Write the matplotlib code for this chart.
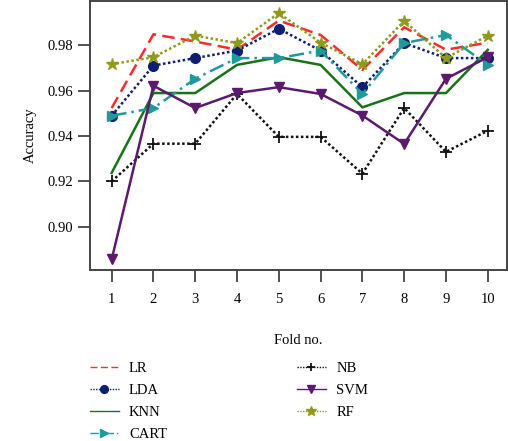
import numpy as np
import matplotlib.pyplot as plt

plt.rcParams['font.family'] = ['Liberation Serif', 'DejaVu Serif']

folds = np.arange(1, 11)
lr = [0.9523, 0.9848, 0.9816, 0.9780, 0.9908, 0.9845, 0.9691, 0.9879, 0.9780, 0.9811]
lda = [0.9489, 0.9710, 0.9743, 0.9776, 0.9872, 0.9776, 0.9615, 0.9809, 0.9743, 0.9743]
knn = [0.9237, 0.9589, 0.9589, 0.9713, 0.9747, 0.9713, 0.9526, 0.9589, 0.9589, 0.9779]
cart = [0.9489, 0.9523, 0.9652, 0.9743, 0.9743, 0.9776, 0.9585, 0.9809, 0.9845, 0.9713]
nb = [0.9200, 0.9366, 0.9366, 0.9585, 0.9396, 0.9396, 0.9234, 0.9523, 0.9330, 0.9423]
svm = [0.8856, 0.9621, 0.9523, 0.9589, 0.9615, 0.9585, 0.9490, 0.9365, 0.9652, 0.9747]
rf = [0.9716, 0.9747, 0.9842, 0.9809, 0.9941, 0.9811, 0.9716, 0.9907, 0.9743, 0.9842]

fig = plt.figure(figsize=(5.08, 4.41), dpi=100)
ax = fig.add_axes([0.177, 0.388, 0.821, 0.61])

LW = 1.8
ax.plot(folds, lr, ls=(0, (5, 2.5)), color='#ff2a2a', lw=LW, label='LR')
ax.plot(folds, lda, ls=(0, (1, 1)), color='#0d1f73', lw=LW, marker='o', ms=7, label='LDA')
ax.plot(folds, knn, ls='-', color='#187318', lw=LW, label='KNN')
ax.plot(folds, cart, ls=(0, (6, 2, 1, 2)), color='#1e9a9a', lw=LW, marker='>', ms=7, label='CART')
ax.plot(folds, nb, ls=(0, (1, 1)), color='#111111', lw=LW, marker='+', ms=8, mew=1.3, label='NB')
ax.plot(folds, svm, ls='-', color='#5c1a6e', lw=LW, marker='v', ms=7, label='SVM')
ax.plot(folds, rf, ls=(0, (1, 1)), color='#8f9a1a', lw=LW, marker='*', ms=9, label='RF')

ax.set_xlim(0.48, 10.46)
ax.set_ylim(0.881, 0.9995)
ax.set_xticks(folds)
ax.set_yticks([0.90, 0.92, 0.94, 0.96, 0.98])
ax.set_yticklabels(['0.90', '0.92', '0.94', '0.96', '0.98'])
ax.tick_params(direction='out', length=8.5, width=1.2, labelsize=10.5, color='#333333')
ax.tick_params(axis='x', pad=8)
for s in ax.spines.values():
    s.set_linewidth(1.4)
    s.set_color('#444444')

ax.set_ylabel('Accuracy', fontsize=10.5, labelpad=8)
ax.set_xlabel('Fold no.', fontsize=10.5, labelpad=20)

leg = fig.legend(loc='upper left', bbox_to_anchor=(0.165, 0.192), ncol=2, frameon=False,
                 fontsize=10.5, handlelength=2.0, handletextpad=0.7, columnspacing=8.9,
                 labelspacing=0.6, markerscale=0.8, borderaxespad=0)
for h in leg.legend_handles:
    h.set_linewidth(1.0)

fig.savefig('out.png', dpi=100)
